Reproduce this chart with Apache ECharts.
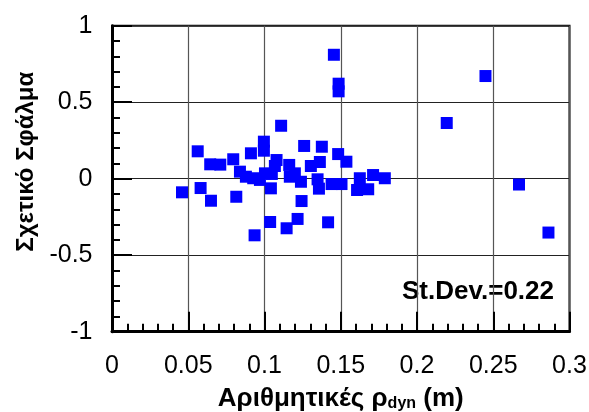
<!DOCTYPE html>
<html>
<head>
<meta charset="utf-8">
<script src="https://cdn.jsdelivr.net/npm/echarts@6/dist/echarts.min.js"></script>
<style>html,body{margin:0;padding:0;background:#fff}#c{width:589px;height:412px}</style>
</head>
<body>
<div id="c"></div>
<script>
var xValues = [0.0459,0.0562,0.0581,0.0649,0.0644,0.0710,0.0795,0.0815,0.0839,0.0878,0.0911,0.0926,0.0935,0.0970,0.0996,0.0996,0.1003,0.1037,0.1042,0.1048,0.1068,0.1079,0.1109,0.1145,0.1162,0.1166,0.1199,0.1217,0.1239,0.1243,0.1260,0.1304,0.1348,0.1357,0.1363,0.1376,0.1417,0.1440,0.1455,0.1486,0.1486,0.1483,0.1505,0.1537,0.1625,0.1607,0.1680,0.1712,0.1789,0.2195,0.2449,0.2669,0.2862];
var yValues = [-0.089,0.179,-0.061,-0.144,0.094,0.092,0.127,-0.118,0.046,0.013,0.166,0.003,-0.370,-0.008,0.242,0.183,0.035,-0.283,-0.063,0.031,0.083,0.122,0.346,-0.324,0.090,0.013,0.035,-0.263,-0.020,-0.146,0.214,0.083,-0.004,-0.065,0.109,0.209,-0.285,-0.035,0.810,0.621,0.571,0.161,-0.035,0.111,0.003,-0.074,-0.069,0.024,0.003,0.364,0.671,-0.038,-0.352];
var xTicks = [0,0.05,0.1,0.15,0.2,0.25,0.3];
var yTicks = [-1,-0.5,0,0.5,1];
var statText = 'St.Dev.=0.22';

var pts = xValues.map(function(x,i){return [x,yValues[i]];});
var chart = echarts.init(document.getElementById('c'));
var font = 'Liberation Sans, Arial, sans-serif';
chart.setOption({
  backgroundColor:'#fff',
  animation:false,
  grid:{left:112,right:19.5,top:25.7,bottom:80.3,outerBoundsMode:'none',containLabel:false,show:true,borderColor:'#000',borderWidth:2,backgroundColor:'transparent'},
  xAxis:{type:'value',min:xTicks[0],max:xTicks[xTicks.length-1],interval:0.05,
    axisLine:{show:true,onZero:false,lineStyle:{color:'#000',width:3}},
    axisTick:{show:true,inside:true,length:20,lineStyle:{color:'#000',width:2}},
    minorTick:{show:true,splitNumber:5,length:8,lineStyle:{color:'#000',width:2}},
    splitLine:{show:true,lineStyle:{color:'#555',width:1.2}},
    axisLabel:{fontFamily:font,fontSize:25,color:'#000',margin:22},
    name:'Αριθμητικές ρ{sub|dyn} (m)',nameLocation:'middle',nameGap:54,
    nameTextStyle:{fontFamily:font,fontSize:26,fontWeight:'bold',color:'#000',
      rich:{sub:{fontFamily:font,fontSize:16,fontWeight:'bold',color:'#000',verticalAlign:'bottom',padding:[10,0,0,0]}}}
  },
  yAxis:{type:'value',min:yTicks[0],max:yTicks[yTicks.length-1],interval:0.5,
    axisLine:{show:true,onZero:false,lineStyle:{color:'#000',width:3}},
    axisTick:{show:true,inside:true,length:20,lineStyle:{color:'#000',width:2}},
    minorTick:{show:true,splitNumber:5,length:8,lineStyle:{color:'#000',width:2}},
    splitLine:{show:true,lineStyle:{color:'#222',width:1.2}},
    axisLabel:{fontFamily:font,fontSize:25,color:'#000',margin:19.5},
    name:'Σχετικό Σφάλμα',nameLocation:'middle',nameGap:69,
    nameTextStyle:{fontFamily:font,fontSize:24,fontWeight:'bold',color:'#000',padding:[0,0,0,34]}
  },
  graphic:[{type:'text',right:35,top:279,style:{text:statText,font:'bold 26px '+font,fill:'#000'}}],
  series:[{type:'scatter',data:pts,symbol:'rect',symbolSize:12,itemStyle:{color:'#0000ff',opacity:1}}]
});
</script>
</body>
</html>
